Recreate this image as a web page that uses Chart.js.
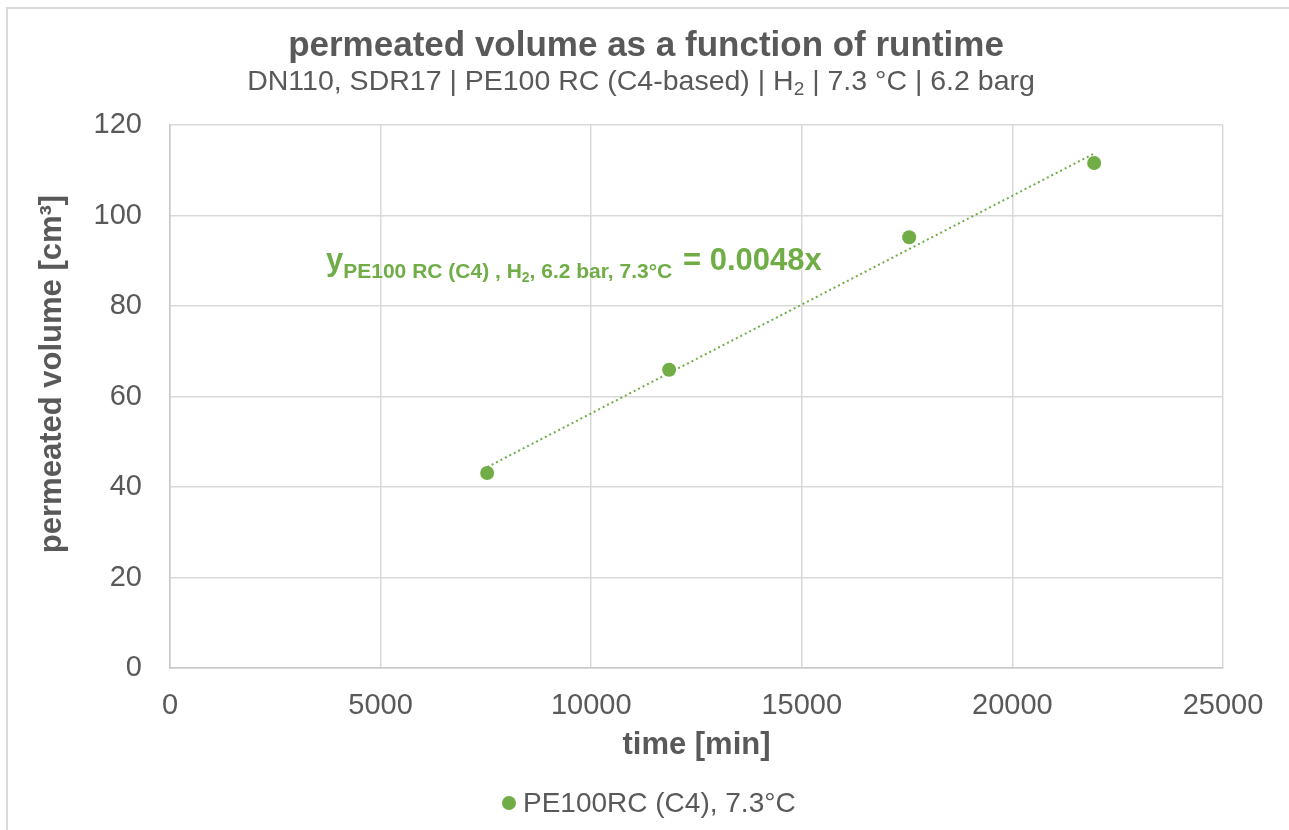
<!DOCTYPE html>
<html>
<head>
<meta charset="utf-8">
<script src="https://cdn.jsdelivr.net/npm/chart.js@4.4.1/dist/chart.umd.min.js"></script>
<style>
    html, body { margin: 0; padding: 0; background: #fff; overflow: hidden; }
    #wrap { position: relative; width: 1289px; height: 830px; }
</style>
</head>
<body>
<div id="wrap"><canvas id="permChart" width="1289" height="830"></canvas></div>
<script>
// data
const runtimeMin = [7530, 11850, 17550, 21940];
const permeatedVolume = [43.1, 65.9, 95.2, 111.6];
// trend line end points (linear fit shown in the chart)
const trendRuntime = [7530, 21940];
const trendVolume = [44.4, 113.7];
const xTickValues = [0, 5000, 10000, 15000, 20000, 25000];
const yTickValues = [0, 20, 40, 60, 80, 100, 120];

const FONT = "'Liberation Sans', Arial, sans-serif";
const GREEN = '#70AD47';
const GREY_TEXT = '#595959';

// text, frame, subtitle, equation and legend drawn by hand
const decorations = {
    id: 'decorations',
    beforeDraw(chart) {
        const ctx = chart.ctx;
        ctx.save();
        ctx.strokeStyle = '#d9d9d9';
        ctx.lineWidth = 2;
        ctx.strokeRect(7, 8, 1400, 1000);
        ctx.restore();
    },
    afterDraw(chart) {
        const ctx = chart.ctx;
        ctx.save();
        ctx.fillStyle = GREY_TEXT;
        ctx.textBaseline = 'alphabetic';

        // title
        ctx.font = `bold 35px ${FONT}`;
        ctx.textAlign = 'center';
        ctx.fillText('permeated volume as a function of runtime', 646, 56);

        // subtitle with H2 subscript
        const big = `28.5px ${FONT}`, small = `19px ${FONT}`;
        const parts = [
            ['DN110, SDR17 | PE100 RC (C4-based) | H', big, 0],
            ['2', small, 5],
            [' | 7.3 °C | 6.2 barg', big, 0]
        ];
        let total = 0;
        parts.forEach(p => { ctx.font = p[1]; total += ctx.measureText(p[0]).width; });
        let x = 641 - total / 2;
        ctx.textAlign = 'left';
        parts.forEach(p => {
            ctx.font = p[1];
            ctx.fillText(p[0], x, 90 + p[2]);
            x += ctx.measureText(p[0]).width;
        });

        // y axis title
        ctx.save();
        ctx.translate(52, 374);
        ctx.rotate(-Math.PI / 2);
        ctx.textAlign = 'center';
        ctx.textBaseline = 'middle';
        ctx.font = `bold 31px ${FONT}`;
        ctx.fillText('permeated volume [cm³]', 0, 0);
        ctx.restore();

        // trend equation
        ctx.fillStyle = GREEN;
        ctx.textAlign = 'left';
        const eq = [
            ['y', `bold 31px ${FONT}`, 270, 0],
            ['PE100 RC (C4) , H', `bold 21px ${FONT}`, 278, 0],
            ['2', `bold 14px ${FONT}`, 282, 0],
            [', 6.2 bar, 7.3°C ', `bold 21px ${FONT}`, 278, 5],
            ['= 0.0048x', `bold 31px ${FONT}`, 270, 0]
        ];
        x = 326;
        eq.forEach(p => {
            ctx.font = p[1];
            ctx.fillText(p[0], x, p[2]);
            x += ctx.measureText(p[0]).width + p[3];
        });

        // legend
        ctx.beginPath();
        ctx.arc(509, 803, 7, 0, Math.PI * 2);
        ctx.fill();
        ctx.fillStyle = GREY_TEXT;
        ctx.font = `28px ${FONT}`;
        ctx.textBaseline = 'middle';
        ctx.fillText('PE100RC (C4), 7.3°C', 523, 804);
        ctx.restore();
    }
};

const ctx = document.getElementById('permChart');
new Chart(ctx, {
    type: 'scatter',
    data: {
        datasets: [
            {
                label: 'PE100RC (C4), 7.3°C',
                data: runtimeMin.map((t, i) => ({ x: t, y: permeatedVolume[i] })),
                backgroundColor: GREEN,
                borderColor: GREEN,
                pointRadius: 7,
                pointBorderWidth: 0,
                showLine: false
            },
            {
                label: 'trend',
                data: trendRuntime.map((t, i) => ({ x: t, y: trendVolume[i] })),
                borderColor: GREEN,
                borderWidth: 2,
                borderDash: [2, 3],
                pointRadius: 0,
                showLine: true,
                fill: false
            }
        ]
    },
    options: {
        responsive: false,
        animation: false,
        layout: { padding: { top: 125, right: 66, left: 0, bottom: 0 } },
        plugins: {
            legend: { display: false },
            tooltip: { enabled: false }
        },
        scales: {
            x: {
                type: 'linear',
                min: 0,
                max: 25000,
                afterBuildTicks: s => { s.ticks = xTickValues.map(v => ({ value: v })); },
                afterFit: s => { s.height = 162; },
                grid: { color: '#d9d9d9', lineWidth: 1.5, drawTicks: false },
                border: { color: '#c8c8c8', width: 1.5 },
                ticks: {
                    color: GREY_TEXT,
                    font: { family: FONT, size: 29 },
                    padding: 21,
                    maxRotation: 0,
                    callback: v => String(v)
                },
                title: {
                    display: true,
                    text: 'time [min]',
                    color: GREY_TEXT,
                    font: { family: FONT, size: 31, weight: 'bold' },
                    padding: { top: 0, bottom: 66 }
                }
            },
            y: {
                min: 0,
                max: 120,
                afterBuildTicks: s => { s.ticks = yTickValues.map(v => ({ value: v })); },
                afterFit: s => { s.width = 170; },
                grid: { color: '#d9d9d9', lineWidth: 1.5, drawTicks: false },
                border: { color: '#c8c8c8', width: 1.5 },
                ticks: {
                    color: GREY_TEXT,
                    font: { family: FONT, size: 29 },
                    padding: 28,
                    callback: v => String(v)
                }
            }
        }
    },
    plugins: [decorations]
});
</script>
</body>
</html>
